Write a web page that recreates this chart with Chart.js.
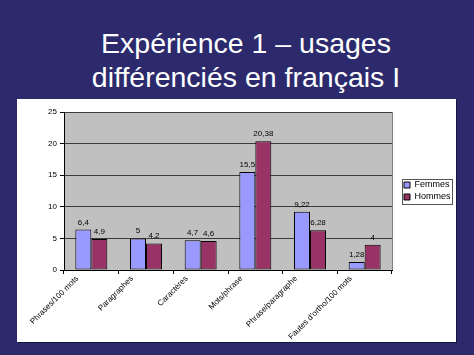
<!DOCTYPE html>
<html><head><meta charset="utf-8">
<script src="https://cdn.jsdelivr.net/npm/chart.js@4"></script>
<style>
html,body{margin:0;padding:0;}
body{width:474px;height:355px;background:#2c2a6c;position:relative;overflow:hidden;font-family:"Liberation Sans",Arial,sans-serif;}
#title{position:absolute;left:18px;width:456px;top:26px;text-align:center;color:#fff;font-size:28.5px;line-height:34px;}
#box{position:absolute;left:17px;top:99px;width:439px;height:243px;background:#fff;box-shadow:1px 1px 0 #15153a;}
canvas{display:block;}
</style></head><body>
<div id="title">Expérience 1 – usages<br>différenciés en français I</div>
<div id="box"><canvas id="c" width="439" height="243"></canvas></div>
<script>
const categories = ["Phrases/100 mots","Paragraphes","Caractères","Mots/phrase","Phrase/paragraphe","Fautes d'ortho/100 mots"];
const femmes = [6.4, 5, 4.7, 15.5, 9.22, 1.28];
const hommes = [4.9, 4.2, 4.6, 20.38, 6.28, 4];
const seriesNames = ["Femmes", "Hommes"];
const yTicks = [0, 5, 10, 15, 20, 25];

const FONT = '"Liberation Sans", Arial, sans-serif';

const plotBg = {
  id: 'plotBg',
  beforeLayout(chart) {
    const lg = chart.legend;
    if (lg && !lg._patched) {
      const f = lg.fit;
      lg.fit = function () { f.call(this); if (this.options.position === 'right') this.width = 60; };
      lg._patched = true;
    }
  },
  afterLayout(chart) {
    const lg = chart.legend;
    if (lg) {
      lg.left += 9;
      lg.top = chart.chartArea.top;
      lg.bottom = chart.chartArea.bottom;
      lg.height = lg.bottom - lg.top;
    }
  },
  beforeDraw(chart) {
    const {ctx, chartArea: a} = chart;
    ctx.save();
    ctx.fillStyle = '#c0c0c0';
    ctx.fillRect(a.left, a.top, a.right - a.left, a.bottom - a.top);
    ctx.strokeStyle = '#808080';
    ctx.lineWidth = 1;
    ctx.strokeRect(Math.round(a.left) + 0.5, Math.round(a.top) + 0.5, Math.round(a.right - a.left), Math.round(a.bottom - a.top));
    ctx.restore();
  },
  afterDatasetsDraw(chart) {
    const {ctx} = chart;
    ctx.save();
    ctx.font = '8px ' + FONT;
    ctx.fillStyle = '#000';
    ctx.textAlign = 'center';
    ctx.textBaseline = 'alphabetic';
    chart.data.datasets.forEach((ds, di) => {
      const meta = chart.getDatasetMeta(di);
      meta.data.forEach((el, i) => {
        const txt = String(ds.data[i]).replace('.', ',');
        ctx.fillText(txt, el.x, el.y - 5);
      });
    });
    ctx.restore();
  },
  afterDraw(chart) {
    const lg = chart.legend;
    if (!lg || !lg.legendHitBoxes || !lg.legendHitBoxes.length) return;
    const hb = lg.legendHitBoxes;
    const x0 = Math.min(...hb.map(h => h.left)) - 2;
    const x1 = Math.max(...hb.map(h => h.left + h.width)) + 1;
    const y0 = hb[0].top - 2;
    const y1 = hb[hb.length - 1].top + hb[hb.length - 1].height + 2;
    const ctx = chart.ctx;
    ctx.save();
    ctx.strokeStyle = '#555';
    ctx.lineWidth = 1;
    ctx.strokeRect(Math.round(x0) + 0.5, Math.round(y0) + 0.5, Math.round(x1 - x0), Math.round(y1 - y0));
    ctx.restore();
  }
};

new Chart(document.getElementById('c'), {
  type: 'bar',
  data: {
    labels: categories,
    datasets: [
      {label: seriesNames[0], data: femmes, backgroundColor: '#9999ff', borderColor: '#000', borderWidth: 1, borderSkipped: false},
      {label: seriesNames[1], data: hommes, backgroundColor: '#993366', borderColor: '#000', borderWidth: 1, borderSkipped: false}
    ]
  },
  options: {
    responsive: false,
    animation: false,
    devicePixelRatio: 1,
    datasets: {bar: {categoryPercentage: 0.585, barPercentage: 1}},
    layout: {padding: {top: 13, right: 4, left: 0, bottom: 0}},
    plugins: {
      legend: {
        position: 'right',
        align: 'center',
        labels: {font: {size: 9, family: FONT}, color: '#000', boxWidth: 6, boxHeight: 6, padding: 3}
      },
      tooltip: {enabled: false},
      title: {display: false}
    },
    scales: {
      x: {
        grid: {display: true, drawOnChartArea: false, offset: true, tickLength: 4, color: '#000'},
        border: {display: true, color: '#000'},
        ticks: {autoSkip: false, minRotation: 45, maxRotation: 45, padding: 0, labelOffset: -14,
                font: {size: 8, family: FONT}, color: '#000'},
        afterFit(s) { s.height = 72; }
      },
      y: {
        min: 0, max: 25,
        afterBuildTicks(s) { s.ticks = yTicks.map(v => ({value: v})); },
        grid: {color: '#3c3c3c', tickLength: 4, tickColor: '#000'},
        border: {display: true, color: '#000'},
        ticks: {font: {size: 8, family: FONT}, color: '#000', padding: 3},
        afterFit(s) { s.width = 47; }
      }
    }
  },
  plugins: [plotBg]
});
</script>
</body></html>
